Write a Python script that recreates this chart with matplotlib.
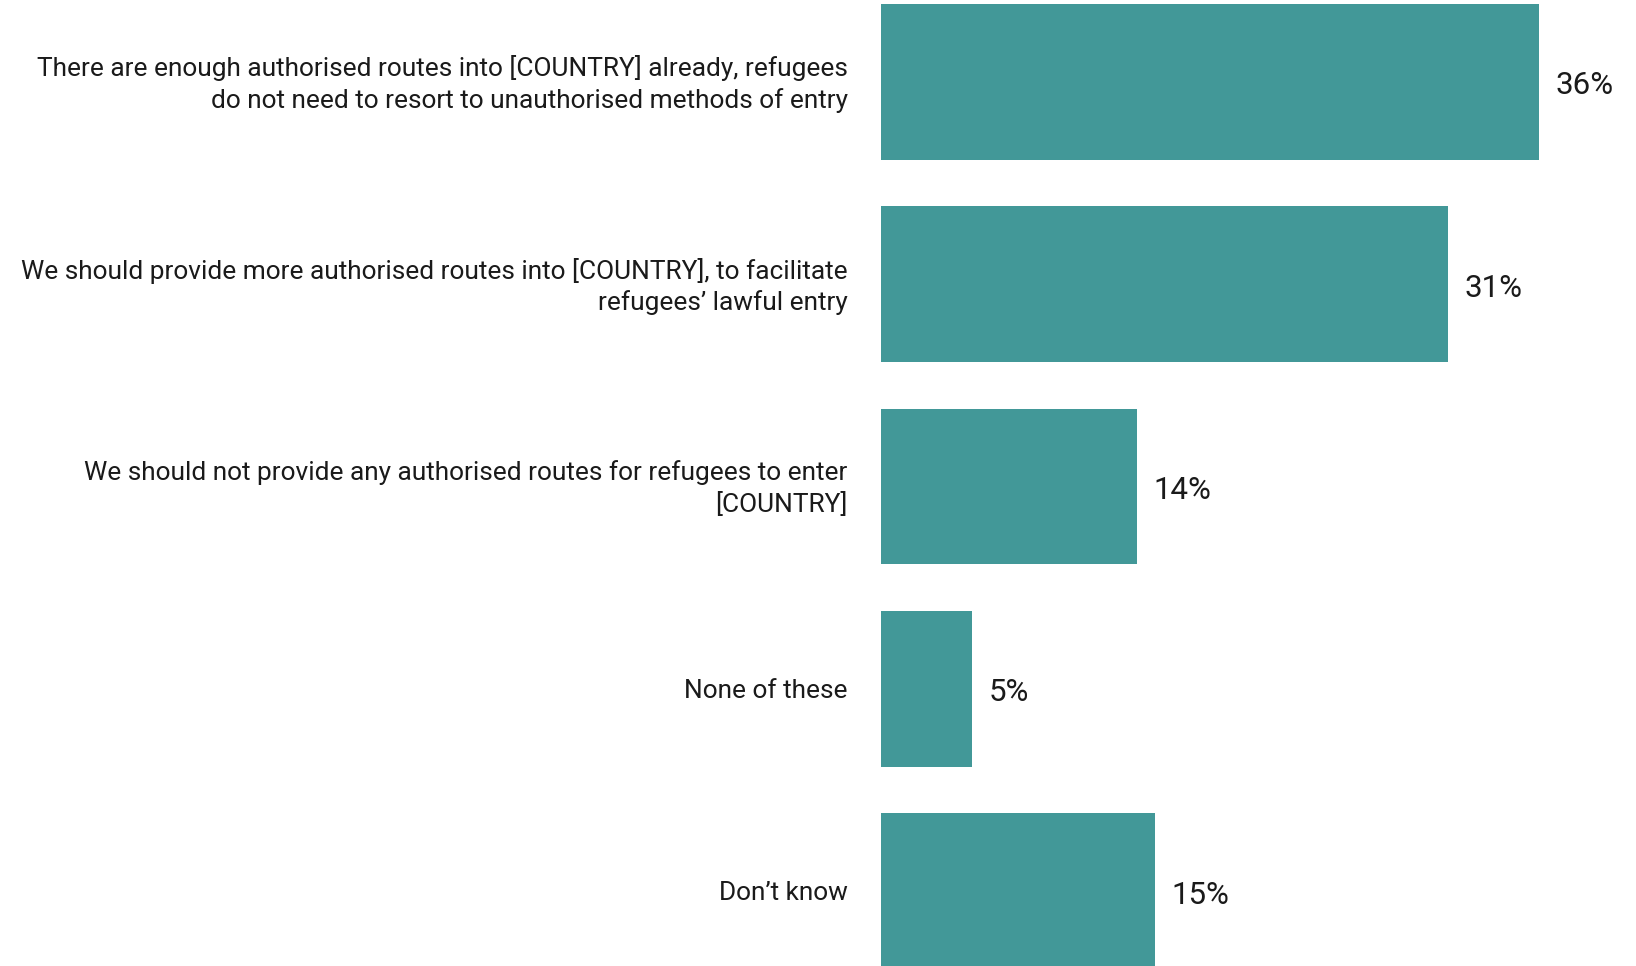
import matplotlib
matplotlib.use("Agg")
import matplotlib.pyplot as plt

categories = [
    "There are enough authorised routes into [COUNTRY] already, refugees\ndo not need to resort to unauthorised methods of entry",
    "We should provide more authorised routes into [COUNTRY], to facilitate\nrefugees\u2019 lawful entry",
    "We should not provide any authorised routes for refugees to enter\n[COUNTRY]",
    "None of these",
    "Don\u2019t know",
]
values = [36, 31, 14, 5, 15]
value_labels = ["36%", "31%", "14%", "5%", "15%"]

BAR_COLOR = "#429898"
TEXT_COLOR = "#1a1a1a"

plt.rcParams['font.family'] = ['Roboto', 'DejaVu Sans']

fig = plt.figure(figsize=(16.36, 9.66), dpi=100)
fig.patch.set_facecolor('white')
ax = fig.add_axes([0.5383, 0.0, 0.4617, 1.0])

y = list(range(len(values)))
ax.barh(y, values, height=0.77, color=BAR_COLOR, edgecolor='none')

ax.set_xlim(0, 41.3)
ax.set_ylim(4.37, -0.405)

# value labels just right of each bar
for yi, v, lab in zip(y, values, value_labels):
    ax.text(v + 0.9, yi + 0.02, lab, va='center', ha='left', fontsize=22.5, color=TEXT_COLOR)

# category labels right-aligned against the bars
for yi, cat in zip(y, categories):
    ax.text(-1.8, yi + 0.01, cat, va='center', ha='right', fontsize=18.9, color=TEXT_COLOR,
            linespacing=1.33, multialignment='right')

ax.axis('off')

fig.savefig("out.png", dpi=100, facecolor='white')
